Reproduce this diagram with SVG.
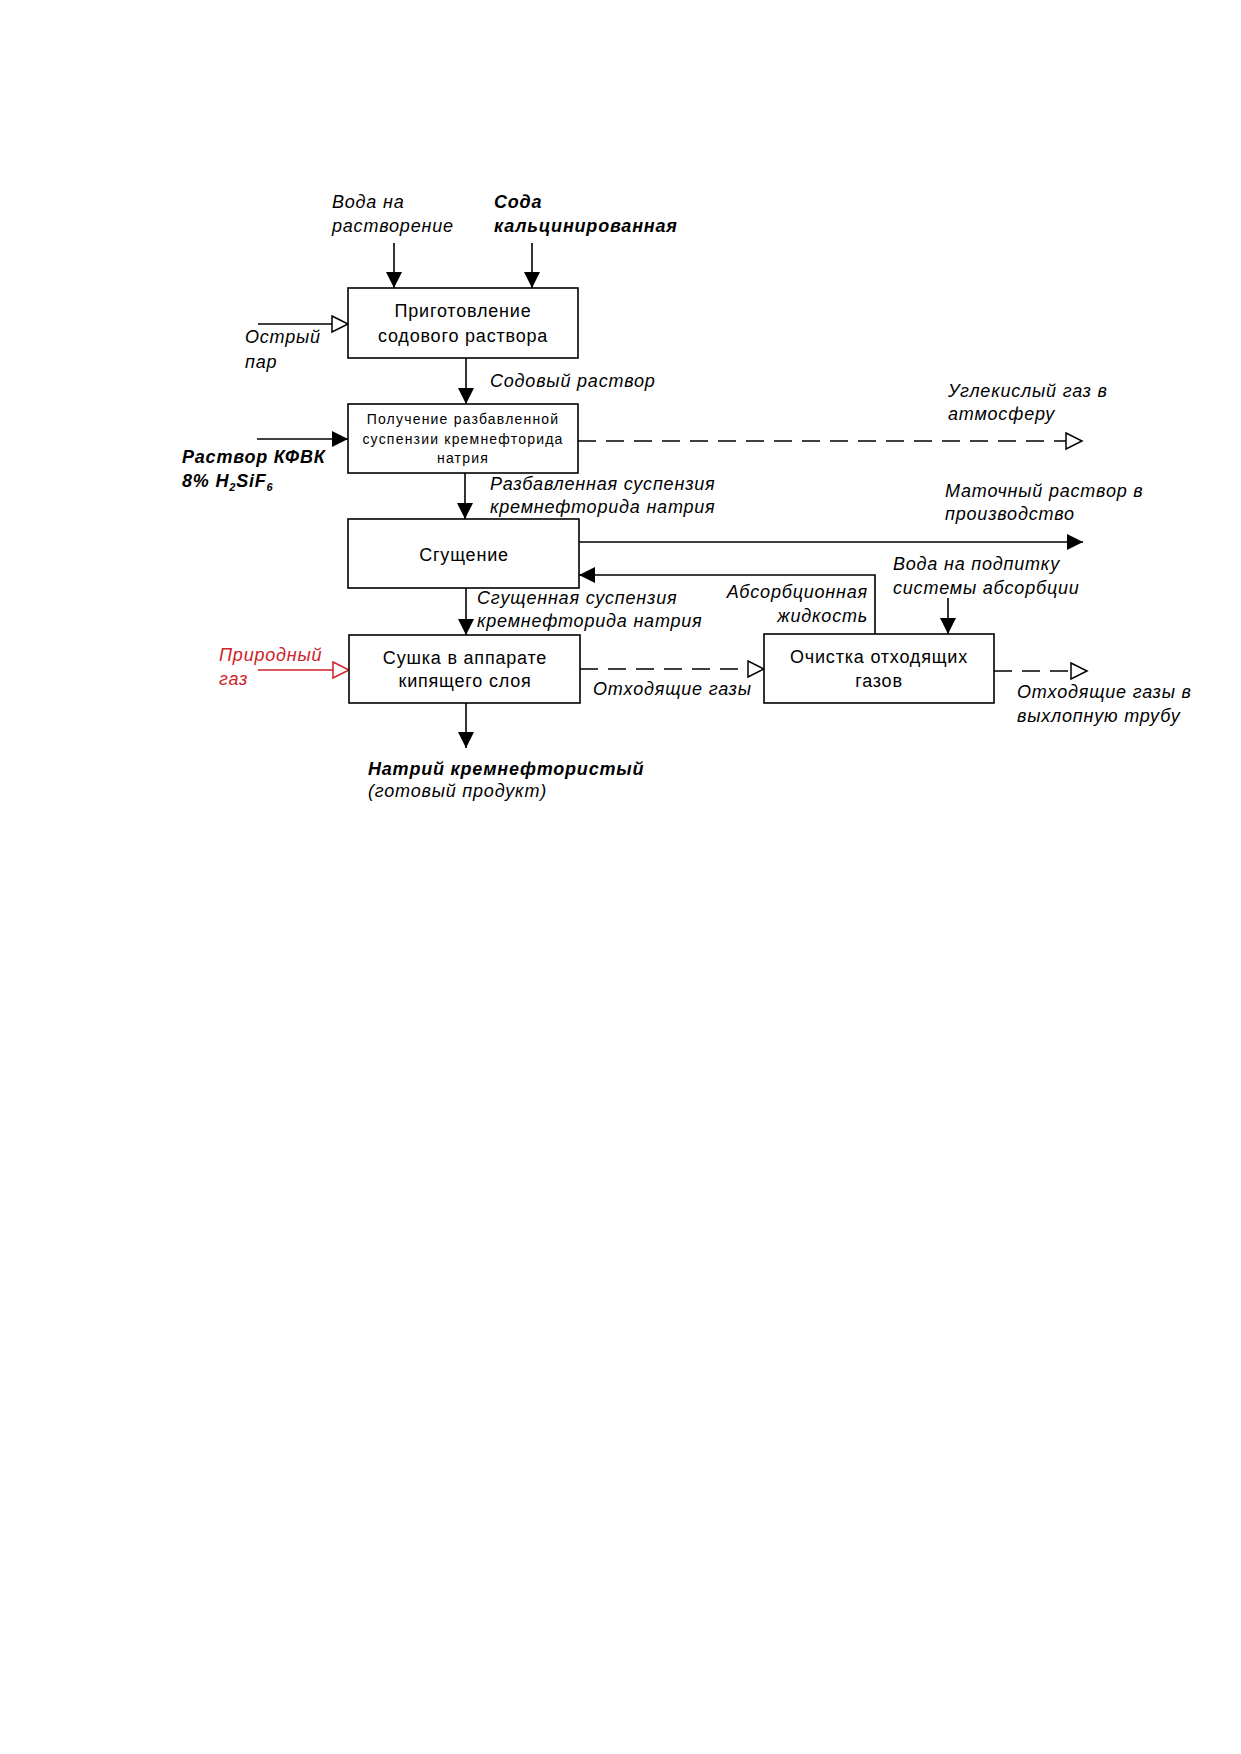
<svg xmlns="http://www.w3.org/2000/svg" width="1241" height="1754" viewBox="0 0 1241 1754">
<style>
.box{fill:#fff;stroke:#000;stroke-width:1.6}
.bt{font-family:"Liberation Sans",Arial,sans-serif;font-size:18px;letter-spacing:0.8px;text-anchor:middle;fill:#000}
.bs{font-family:"Liberation Sans",Arial,sans-serif;font-size:14px;letter-spacing:1.2px;text-anchor:middle;fill:#000}
.lb{font-family:"Liberation Sans",Arial,sans-serif;font-size:18px;font-style:italic;letter-spacing:0.8px;fill:#000}
.bi{font-weight:bold}
.red{fill:#cc2229}
.ln{fill:none;stroke:#000;stroke-width:1.6}
.dash{stroke-dasharray:18 10}
.lr{fill:none;stroke:#cc2229;stroke-width:1.6}
</style>
<defs>
<marker id="af" markerUnits="userSpaceOnUse" markerWidth="17" markerHeight="16" refX="16" refY="8" orient="auto"><path d="M0,0 L16,8 L0,16 z" fill="#000"/></marker>
<marker id="ah" markerUnits="userSpaceOnUse" markerWidth="19" markerHeight="19" refX="17" refY="9.5" orient="auto"><path d="M1,1.5 L17,9.5 L1,17.5 z" fill="#fff" stroke="#000" stroke-width="1.5"/></marker>
<marker id="ahr" markerUnits="userSpaceOnUse" markerWidth="19" markerHeight="19" refX="17" refY="9.5" orient="auto"><path d="M1,1.5 L17,9.5 L1,17.5 z" fill="#fff" stroke="#cc2229" stroke-width="1.5"/></marker>
</defs>
<rect width="1241" height="1754" fill="#fff"/>
<g id="connectors">
<line class="ln" x1="394" y1="243" x2="394" y2="288" marker-end="url(#af)"/>
<line class="ln" x1="532" y1="243" x2="532" y2="288" marker-end="url(#af)"/>
<line class="ln" x1="258" y1="324" x2="348" y2="324" marker-end="url(#ah)"/>
<line class="ln" x1="466" y1="358" x2="466" y2="404" marker-end="url(#af)"/>
<line class="ln" x1="257" y1="439" x2="348" y2="439" marker-end="url(#af)"/>
<line class="ln dash" x1="578" y1="441" x2="1082" y2="441" marker-end="url(#ah)"/>
<line class="ln" x1="465" y1="473" x2="465" y2="519" marker-end="url(#af)"/>
<line class="ln" x1="579" y1="542" x2="1083" y2="542" marker-end="url(#af)"/>
<path class="ln" d="M875,634 V575 H579" marker-end="url(#af)"/>
<line class="ln" x1="466" y1="588" x2="466" y2="635" marker-end="url(#af)"/>
<line class="ln" x1="948" y1="598" x2="948" y2="634" marker-end="url(#af)"/>
<line class="lr" x1="258" y1="670" x2="349" y2="670" marker-end="url(#ahr)"/>
<line class="ln dash" x1="580" y1="669" x2="764" y2="669" marker-end="url(#ah)"/>
<line class="ln dash" x1="994" y1="671" x2="1087" y2="671" marker-end="url(#ah)"/>
<line class="ln" x1="466" y1="703" x2="466" y2="748" marker-end="url(#af)"/>
</g>
<g id="node-prep">
<rect class="box" x="348" y="288" width="230" height="70"/>
<text class="bt" x="463" y="317">Приготовление</text>
<text class="bt" x="463" y="342">содового раствора</text>
</g>
<g id="node-suspension">
<rect class="box" x="348" y="404" width="230" height="69"/>
<text class="bs" x="463" y="424">Получение разбавленной</text>
<text class="bs" x="463" y="444">суспензии кремнефторида</text>
<text class="bs" x="463" y="463">натрия</text>
</g>
<g id="node-thicken">
<rect class="box" x="348" y="519" width="231" height="69"/>
<text class="bt" x="464" y="561">Сгущение</text>
</g>
<g id="node-dry">
<rect class="box" x="349" y="635" width="231" height="68"/>
<text class="bt" x="465" y="664">Сушка в аппарате</text>
<text class="bt" x="465" y="687">кипящего слоя</text>
</g>
<g id="node-clean">
<rect class="box" x="764" y="634" width="230" height="69"/>
<text class="bt" x="879" y="663">Очистка отходящих</text>
<text class="bt" x="879" y="687">газов</text>
</g>
<g id="labels">
<text class="lb" x="332" y="208">Вода на</text>
<text class="lb" x="332" y="232">растворение</text>
<text class="lb bi" x="494" y="208">Сода</text>
<text class="lb bi" x="494" y="232">кальцинированная</text>
<text class="lb" x="245" y="343">Острый</text>
<text class="lb" x="245" y="368">пар</text>
<text class="lb" x="490" y="387">Содовый раствор</text>
<text class="lb" x="948" y="397">Углекислый газ в</text>
<text class="lb" x="948" y="420">атмосферу</text>
<text class="lb bi" x="182" y="463">Раствор КФВК</text>
<text class="lb bi" x="182" y="487">8% H<tspan font-size="11" dy="4">2</tspan><tspan dy="-4">SiF</tspan><tspan font-size="11" dy="4">6</tspan></text>
<text class="lb" x="490" y="490">Разбавленная суспензия</text>
<text class="lb" x="490" y="513">кремнефторида натрия</text>
<text class="lb" x="945" y="497">Маточный раствор в</text>
<text class="lb" x="945" y="520">производство</text>
<text class="lb" x="893" y="570">Вода на подпитку</text>
<text class="lb" x="893" y="594">системы абсорбции</text>
<text class="lb" x="477" y="604">Сгущенная суспензия</text>
<text class="lb" x="477" y="627">кремнефторида натрия</text>
<text class="lb" x="868" y="598" text-anchor="end">Абсорбционная</text>
<text class="lb" x="868" y="622" text-anchor="end">жидкость</text>
<text class="lb red" x="219" y="661">Природный</text>
<text class="lb red" x="219" y="685">газ</text>
<text class="lb" x="593" y="695">Отходящие газы</text>
<text class="lb" x="1017" y="698">Отходящие газы в</text>
<text class="lb" x="1017" y="722">выхлопную трубу</text>
<text class="lb bi" x="368" y="775">Натрий кремнефтористый</text>
<text class="lb" x="368" y="797">(готовый продукт)</text>
</g>
</svg>
